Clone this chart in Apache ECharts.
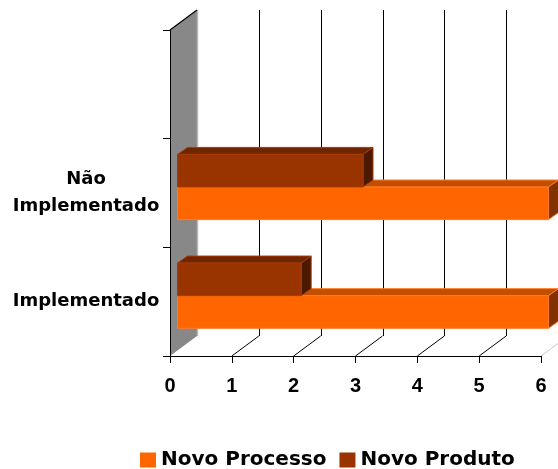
<!DOCTYPE html>
<html>
<head>
<meta charset="utf-8">
<script src="https://cdn.jsdelivr.net/npm/echarts@6/dist/echarts.min.js"></script>
<style>
  html, body { margin: 0; padding: 0; background: #fff; }
  #chart { width: 558px; height: 469px; }
</style>
</head>
<body>
<div id="chart"></div>
<script>
// Categories bottom-to-top; the top band is left empty.
const categories = ['Implementado', 'Não Implementado', ''];
const novoProcesso = [6, 6];
const novoProduto = [2, 3];
const xTicks = [0, 1, 2, 3, 4, 5, 6];

// Perspective offsets for the pseudo-3D look (pixels).
const FRAME_DEPTH = [27, -20];
const BAR_SHIFT = [7.5, -6];
const BAR_DEPTH = [10, -7];

function px(v) { return Math.round(v) + 0.5; }

function renderFrame(params, api) {
  const band = api.size([0, 1])[1];
  const topY = api.coord([0, categories.length - 1])[1] - band / 2;
  const botY = api.coord([0, 0])[1] + band / 2;
  const x0 = api.coord([0, 0])[0];
  const [dx, dy] = FRAME_DEPTH;
  const children = [];
  // side wall
  children.push({
    type: 'polygon',
    shape: { points: [[x0, topY], [x0 + dx, topY + dy], [x0 + dx, botY + dy], [x0, botY]] },
    style: { fill: '#888888' }
  });
  children.push({
    type: 'line',
    shape: { x1: px(x0 + dx), y1: topY + dy, x2: px(x0 + dx), y2: botY + dy },
    style: { stroke: '#b8b8b8', lineWidth: 1.5 }
  });
  children.push({
    type: 'line',
    shape: { x1: x0, y1: topY, x2: x0 + dx, y2: topY + dy },
    style: { stroke: '#000', lineWidth: 1.2 }
  });
  // back gridlines and floor diagonals
  xTicks.forEach(function (t, i) {
    if (t === 0) return;
    const x = api.coord([t, 0])[0];
    const last = i === xTicks.length - 1;
    children.push({
      type: 'line',
      shape: { x1: px(x + dx), y1: topY + dy, x2: px(x + dx), y2: botY + dy },
      style: { stroke: '#000', lineWidth: 1 }
    });
    children.push({
      type: 'line',
      shape: { x1: x, y1: botY, x2: x + dx, y2: botY + dy },
      style: { stroke: last ? '#c8c8c8' : '#000', lineWidth: 1 }
    });
  });
  return { type: 'group', children: children };
}

function makeBarRenderer(upper, colors) {
  return function (params, api) {
    const v = api.value(0);
    const c = api.value(1);
    const band = api.size([0, 1])[1];
    const h = band * 0.3;
    const start = api.coord([0, c]);
    const end = api.coord([v, c]);
    const cy = start[1];
    const y0 = (upper ? cy - h : cy) + BAR_SHIFT[1];
    const y1 = y0 + h;
    const x0 = start[0] + BAR_SHIFT[0];
    const x1 = end[0] + BAR_SHIFT[0];
    const [bx, by] = BAR_DEPTH;
    return {
      type: 'group',
      children: [
        {
          type: 'polygon',
          shape: { points: [[x0, y0], [x0 + bx, y0 + by], [x1 + bx, y0 + by], [x1, y0]] },
          style: { fill: colors.top, stroke: colors.edge, lineWidth: 1 }
        },
        {
          type: 'polygon',
          shape: { points: [[x1, y0], [x1 + bx, y0 + by], [x1 + bx, y1 + by], [x1, y1]] },
          style: { fill: colors.side, stroke: colors.edge, lineWidth: 1 }
        },
        {
          type: 'rect',
          shape: { x: x0, y: y0, width: x1 - x0, height: y1 - y0 },
          style: { fill: colors.front, stroke: colors.edge, lineWidth: 1 }
        }
      ]
    };
  };
}

const processoColors = { front: '#ff6600', top: '#c24e00', side: '#803300', edge: '#ff7a22' };
const produtoColors = { front: '#993300', top: '#6e2500', side: '#4a1900', edge: '#a53c08' };

const chart = echarts.init(document.getElementById('chart'), null, { renderer: 'canvas' });
chart.setOption({
  animation: false,
  backgroundColor: '#ffffff',
  grid: { left: 170, right: 17, top: 30, bottom: 113 },
  legend: {
    data: ['Novo Processo', 'Novo Produto'],
    left: 135,
    top: 445,
    icon: 'rect',
    itemWidth: 16,
    itemHeight: 15,
    itemGap: 13,
    textStyle: { fontFamily: 'DejaVu Sans', fontWeight: 'bold', fontSize: 20, color: '#000' }
  },
  xAxis: {
    type: 'value',
    min: 0,
    max: 6,
    interval: 1,
    z: 10,
    splitLine: { show: false },
    axisLine: { show: true, lineStyle: { color: '#000', width: 1 } },
    axisTick: { show: true, length: 7, lineStyle: { color: '#000' } },
    axisLabel: {
      margin: 20,
      fontFamily: 'Liberation Sans',
      fontWeight: 'bold',
      fontSize: 20,
      color: '#000'
    }
  },
  yAxis: {
    type: 'category',
    data: categories,
    z: 10,
    axisLine: { show: true, lineStyle: { color: '#000', width: 1 } },
    axisTick: { show: true, length: 7, lineStyle: { color: '#000' } },
    splitLine: { show: false },
    axisLabel: {
      margin: 84,
      align: 'center',
      lineHeight: 27,
      fontFamily: 'DejaVu Sans',
      fontWeight: 'bold',
      fontSize: 18,
      color: '#000',
      formatter: function (v) { return v.replace(' ', '\n'); }
    }
  },
  series: [
    {
      name: 'frame',
      type: 'custom',
      clip: false,
      silent: true,
      z: 1,
      renderItem: renderFrame,
      data: [[0, 0]]
    },
    {
      name: 'Novo Processo',
      type: 'custom',
      clip: false,
      z: 2,
      itemStyle: { color: processoColors.front },
      encode: { x: 0, y: 1 },
      renderItem: makeBarRenderer(false, processoColors),
      data: novoProcesso.map(function (v, i) { return [v, i]; })
    },
    {
      name: 'Novo Produto',
      type: 'custom',
      clip: false,
      z: 2,
      itemStyle: { color: produtoColors.front },
      encode: { x: 0, y: 1 },
      renderItem: makeBarRenderer(true, produtoColors),
      data: novoProduto.map(function (v, i) { return [v, i]; })
    }
  ]
});
</script>
</body>
</html>
